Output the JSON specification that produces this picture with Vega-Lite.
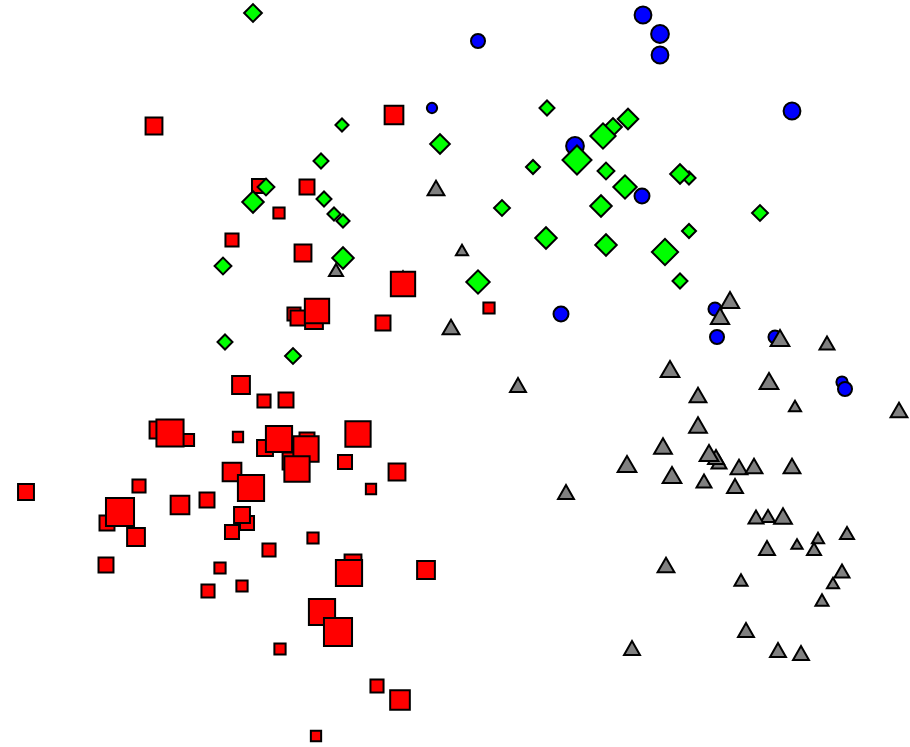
{
  "$schema": "https://vega.github.io/schema/vega-lite/v6.json",
  "width": 910,
  "height": 747,
  "autosize": {"type": "none"},
  "padding": 0,
  "background": "white",
  "config": {"view": {"stroke": null}},
  "data": {
    "values": [
      {"g": "A", "x": 15.4, "y": 12.6, "m": 18},
      {"g": "A", "x": 39.4, "y": 11.5, "m": 20},
      {"g": "A", "x": 25.9, "y": 18.6, "m": 15},
      {"g": "A", "x": 30.7, "y": 18.7, "m": 16},
      {"g": "A", "x": 27.9, "y": 21.3, "m": 12},
      {"g": "A", "x": 23.2, "y": 24.0, "m": 14},
      {"g": "A", "x": 30.3, "y": 25.3, "m": 18},
      {"g": "A", "x": 40.3, "y": 28.4, "m": 26},
      {"g": "A", "x": 29.4, "y": 31.4, "m": 14},
      {"g": "A", "x": 29.8, "y": 31.8, "m": 16},
      {"g": "A", "x": 31.4, "y": 32.0, "m": 19},
      {"g": "A", "x": 31.7, "y": 31.1, "m": 26},
      {"g": "A", "x": 38.3, "y": 32.3, "m": 16},
      {"g": "A", "x": 48.9, "y": 30.8, "m": 12},
      {"g": "A", "x": 24.1, "y": 38.5, "m": 19},
      {"g": "A", "x": 26.4, "y": 40.1, "m": 14},
      {"g": "A", "x": 28.6, "y": 40.0, "m": 16},
      {"g": "A", "x": 15.8, "y": 43.0, "m": 18},
      {"g": "A", "x": 17.0, "y": 43.3, "m": 29},
      {"g": "A", "x": 18.8, "y": 44.0, "m": 13},
      {"g": "A", "x": 23.8, "y": 43.7, "m": 11},
      {"g": "A", "x": 30.7, "y": 44.0, "m": 16},
      {"g": "A", "x": 26.5, "y": 44.8, "m": 17},
      {"g": "A", "x": 30.6, "y": 44.9, "m": 27},
      {"g": "A", "x": 27.9, "y": 43.9, "m": 28},
      {"g": "A", "x": 29.1, "y": 46.1, "m": 18},
      {"g": "A", "x": 29.7, "y": 46.9, "m": 27},
      {"g": "A", "x": 35.8, "y": 43.4, "m": 27},
      {"g": "A", "x": 34.5, "y": 46.2, "m": 15},
      {"g": "A", "x": 39.7, "y": 47.2, "m": 18},
      {"g": "A", "x": 37.1, "y": 48.9, "m": 11},
      {"g": "A", "x": 23.2, "y": 47.2, "m": 20},
      {"g": "A", "x": 25.1, "y": 48.8, "m": 28},
      {"g": "A", "x": 13.9, "y": 48.6, "m": 14},
      {"g": "A", "x": 2.6, "y": 49.2, "m": 17},
      {"g": "A", "x": 12.0, "y": 51.2, "m": 30},
      {"g": "A", "x": 10.7, "y": 52.3, "m": 16},
      {"g": "A", "x": 13.6, "y": 53.7, "m": 19},
      {"g": "A", "x": 18.0, "y": 50.5, "m": 20},
      {"g": "A", "x": 20.7, "y": 50.0, "m": 16},
      {"g": "A", "x": 24.7, "y": 52.3, "m": 15},
      {"g": "A", "x": 23.2, "y": 53.2, "m": 15},
      {"g": "A", "x": 24.2, "y": 51.5, "m": 17},
      {"g": "A", "x": 31.3, "y": 53.8, "m": 12},
      {"g": "A", "x": 26.9, "y": 55.0, "m": 14},
      {"g": "A", "x": 22.0, "y": 56.8, "m": 12},
      {"g": "A", "x": 24.2, "y": 58.6, "m": 12},
      {"g": "A", "x": 20.8, "y": 59.1, "m": 14},
      {"g": "A", "x": 10.6, "y": 56.5, "m": 16},
      {"g": "A", "x": 35.3, "y": 56.3, "m": 18},
      {"g": "A", "x": 34.9, "y": 57.3, "m": 28},
      {"g": "A", "x": 42.6, "y": 57.0, "m": 19},
      {"g": "A", "x": 32.2, "y": 61.2, "m": 28},
      {"g": "A", "x": 33.8, "y": 63.2, "m": 30},
      {"g": "A", "x": 28.0, "y": 64.9, "m": 12},
      {"g": "A", "x": 37.7, "y": 68.6, "m": 14},
      {"g": "A", "x": 40.0, "y": 70.0, "m": 21},
      {"g": "A", "x": 31.6, "y": 73.6, "m": 11},

      {"g": "B", "x": 25.3, "y": 1.3, "m": 19},
      {"g": "B", "x": 34.2, "y": 12.5, "m": 14},
      {"g": "B", "x": 44.0, "y": 14.4, "m": 21},
      {"g": "B", "x": 32.1, "y": 16.1, "m": 16},
      {"g": "B", "x": 26.6, "y": 18.7, "m": 18},
      {"g": "B", "x": 25.3, "y": 20.2, "m": 23},
      {"g": "B", "x": 32.4, "y": 19.9, "m": 16},
      {"g": "B", "x": 33.4, "y": 21.4, "m": 14},
      {"g": "B", "x": 34.3, "y": 22.1, "m": 14},
      {"g": "B", "x": 22.3, "y": 26.6, "m": 18},
      {"g": "B", "x": 34.3, "y": 25.8, "m": 23},
      {"g": "B", "x": 22.5, "y": 34.2, "m": 16},
      {"g": "B", "x": 29.3, "y": 35.6, "m": 17},
      {"g": "B", "x": 54.7, "y": 10.8, "m": 16},
      {"g": "B", "x": 60.3, "y": 13.6, "m": 27},
      {"g": "B", "x": 61.3, "y": 12.7, "m": 19},
      {"g": "B", "x": 62.8, "y": 11.9, "m": 22},
      {"g": "B", "x": 57.7, "y": 16.0, "m": 31},
      {"g": "B", "x": 53.3, "y": 16.7, "m": 15},
      {"g": "B", "x": 60.6, "y": 17.1, "m": 18},
      {"g": "B", "x": 62.5, "y": 18.7, "m": 25},
      {"g": "B", "x": 68.0, "y": 17.4, "m": 21},
      {"g": "B", "x": 68.9, "y": 17.8, "m": 14},
      {"g": "B", "x": 50.2, "y": 20.8, "m": 17},
      {"g": "B", "x": 60.1, "y": 20.6, "m": 23},
      {"g": "B", "x": 76.0, "y": 21.3, "m": 17},
      {"g": "B", "x": 68.9, "y": 23.1, "m": 15},
      {"g": "B", "x": 54.6, "y": 23.8, "m": 23},
      {"g": "B", "x": 60.6, "y": 24.5, "m": 23},
      {"g": "B", "x": 66.5, "y": 25.2, "m": 28},
      {"g": "B", "x": 68.0, "y": 28.1, "m": 16},
      {"g": "B", "x": 47.8, "y": 28.2, "m": 25},

      {"g": "C", "x": 64.3, "y": 1.5, "m": 18},
      {"g": "C", "x": 66.0, "y": 3.4, "m": 19},
      {"g": "C", "x": 66.0, "y": 5.5, "m": 18},
      {"g": "C", "x": 47.8, "y": 4.1, "m": 15},
      {"g": "C", "x": 43.2, "y": 10.8, "m": 11},
      {"g": "C", "x": 79.2, "y": 11.1, "m": 18},
      {"g": "C", "x": 57.5, "y": 14.6, "m": 19},
      {"g": "C", "x": 64.2, "y": 19.6, "m": 16},
      {"g": "C", "x": 56.1, "y": 31.4, "m": 16},
      {"g": "C", "x": 71.5, "y": 30.9, "m": 14},
      {"g": "C", "x": 71.7, "y": 33.7, "m": 15},
      {"g": "C", "x": 77.5, "y": 33.7, "m": 14},
      {"g": "C", "x": 84.2, "y": 38.2, "m": 12},
      {"g": "C", "x": 84.5, "y": 38.9, "m": 15},

      {"g": "D", "x": 43.6, "y": 18.8, "m": 18},
      {"g": "D", "x": 46.2, "y": 25.0, "m": 13},
      {"g": "D", "x": 33.6, "y": 27.0, "m": 15},
      {"g": "D", "x": 40.3, "y": 27.7, "m": 14},
      {"g": "D", "x": 45.1, "y": 32.7, "m": 18},
      {"g": "D", "x": 73.0, "y": 30.0, "m": 19.5},
      {"g": "D", "x": 72.0, "y": 31.6, "m": 19.5},
      {"g": "D", "x": 78.0, "y": 33.8, "m": 20},
      {"g": "D", "x": 82.7, "y": 34.3, "m": 16},
      {"g": "D", "x": 67.0, "y": 36.9, "m": 20},
      {"g": "D", "x": 76.9, "y": 38.1, "m": 20},
      {"g": "D", "x": 51.8, "y": 38.5, "m": 17},
      {"g": "D", "x": 79.5, "y": 40.6, "m": 13},
      {"g": "D", "x": 89.9, "y": 41.0, "m": 18},
      {"g": "D", "x": 69.8, "y": 39.5, "m": 18},
      {"g": "D", "x": 69.8, "y": 42.5, "m": 19},
      {"g": "D", "x": 66.3, "y": 44.6, "m": 19},
      {"g": "D", "x": 71.9, "y": 46.2, "m": 16},
      {"g": "D", "x": 71.6, "y": 45.7, "m": 17},
      {"g": "D", "x": 70.9, "y": 45.3, "m": 20},
      {"g": "D", "x": 62.7, "y": 46.4, "m": 20},
      {"g": "D", "x": 67.2, "y": 47.5, "m": 20},
      {"g": "D", "x": 70.4, "y": 48.1, "m": 16},
      {"g": "D", "x": 73.9, "y": 46.7, "m": 18},
      {"g": "D", "x": 75.4, "y": 46.6, "m": 18},
      {"g": "D", "x": 79.2, "y": 46.6, "m": 18},
      {"g": "D", "x": 73.5, "y": 48.6, "m": 17},
      {"g": "D", "x": 56.6, "y": 49.2, "m": 17},
      {"g": "D", "x": 75.6, "y": 51.7, "m": 16},
      {"g": "D", "x": 76.8, "y": 51.6, "m": 15},
      {"g": "D", "x": 78.3, "y": 51.6, "m": 19},
      {"g": "D", "x": 84.7, "y": 53.3, "m": 15},
      {"g": "D", "x": 81.8, "y": 53.8, "m": 13},
      {"g": "D", "x": 79.7, "y": 54.4, "m": 12},
      {"g": "D", "x": 81.4, "y": 54.9, "m": 15},
      {"g": "D", "x": 76.7, "y": 54.8, "m": 17},
      {"g": "D", "x": 66.6, "y": 56.5, "m": 18},
      {"g": "D", "x": 84.2, "y": 57.1, "m": 16},
      {"g": "D", "x": 83.3, "y": 58.3, "m": 13},
      {"g": "D", "x": 74.1, "y": 58.0, "m": 14},
      {"g": "D", "x": 82.2, "y": 60.0, "m": 14},
      {"g": "D", "x": 74.6, "y": 63.0, "m": 17},
      {"g": "D", "x": 63.2, "y": 64.8, "m": 17},
      {"g": "D", "x": 77.8, "y": 65.0, "m": 17},
      {"g": "D", "x": 80.1, "y": 65.3, "m": 17}
    ]
  },
  "mark": {"type": "point", "filled": true, "opacity": 1, "stroke": "black", "strokeWidth": 2},
  "encoding": {
    "x": {"field": "x", "type": "quantitative", "scale": {"domain": [0, 91], "nice": false, "zero": false}, "axis": null},
    "y": {"field": "y", "type": "quantitative", "scale": {"domain": [0, 74.7], "reverse": true, "nice": false, "zero": false}, "axis": null},
    "shape": {"field": "g", "type": "nominal", "scale": {"domain": ["A", "B", "C", "D"], "range": ["square", "diamond", "circle", "triangle-up"]}, "legend": null},
    "color": {"field": "g", "type": "nominal", "scale": {"domain": ["A", "B", "C", "D"], "range": ["#ff0000", "#00ff00", "#0000ff", "#808080"]}, "legend": null},
    "size": {"field": "m", "type": "quantitative", "scale": {"type": "pow", "exponent": 2, "domain": [0, 40], "range": [0, 1400]}, "legend": null},
    "order": {"field": "m", "type": "quantitative"}
  }
}
